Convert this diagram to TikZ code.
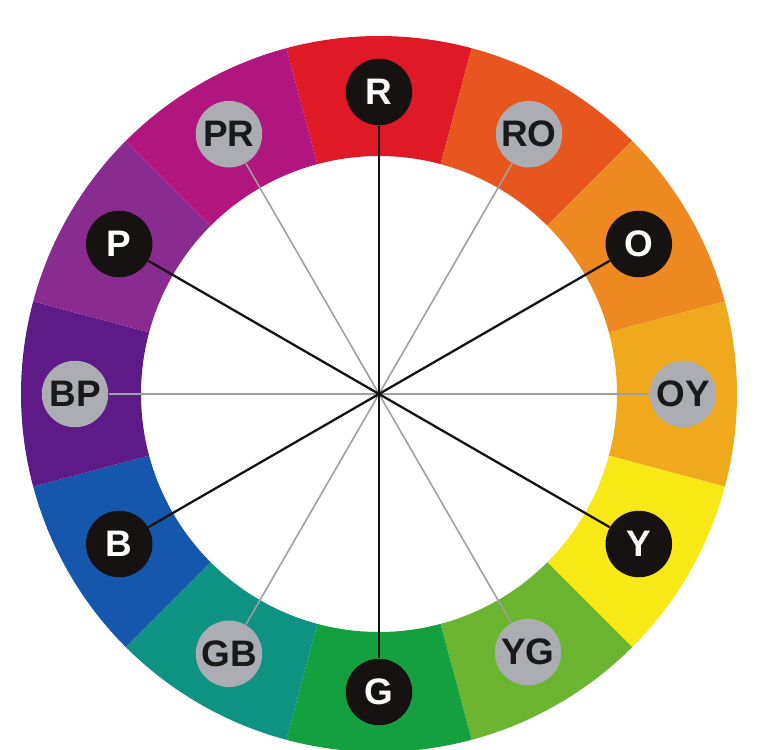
\documentclass[tikz,border=0pt]{standalone}
\usepackage{fontspec}
\setmainfont{Liberation Sans}
\definecolor{cR}{HTML}{DF1A26}
\definecolor{cRO}{HTML}{E8561F}
\definecolor{cO}{HTML}{EE8820}
\definecolor{cOY}{HTML}{F0A91C}
\definecolor{cY}{HTML}{F8E816}
\definecolor{cYG}{HTML}{6CB531}
\definecolor{cG}{HTML}{15A040}
\definecolor{cGB}{HTML}{0E9282}
\definecolor{cB}{HTML}{1557AC}
\definecolor{cBP}{HTML}{5E1B87}
\definecolor{cP}{HTML}{8A2B8F}
\definecolor{cPR}{HTML}{B1167F}
\definecolor{dotblack}{HTML}{161212}
\definecolor{dotgray}{HTML}{ABADB2}
\definecolor{spokegray}{HTML}{A0A0A0}
\tikzset{
  prim/.style={circle, fill=dotblack, minimum size=1.33cm, inner sep=0pt, text=white, font=\bfseries\fontsize{21}{21}\selectfont},
  tert/.style={circle, fill=dotgray, minimum size=1.33cm, inner sep=0pt, text=black!90, font=\bfseries\fontsize{21}{21}\selectfont},
  mainspoke/.style={draw=dotblack, line width=1.3pt},
  minorspoke/.style={draw=spokegray, line width=0.9pt}
}
\begin{document}
\begin{tikzpicture}[x=0.02cm,y=0.02cm]
\useasboundingbox (-379,-356) rectangle (389,394);
\fill[white] (-379,-356) rectangle (389,394);
\foreach \c/\a in {cR/90,cRO/60,cO/30,cOY/0,cY/-30,cYG/-60,cG/-90,cGB/-120,cB/-150,cBP/180,cP/150,cPR/120}{
  \fill[\c] (\a-15:238) -- (\a-15:358) arc[start angle=\a-15, end angle=\a+15, radius=358] -- (\a+15:238) arc[start angle=\a+15, end angle=\a-15, radius=238] -- cycle;
}
\coordinate (c) at (0,0);
\node[prim] (R) at (90:302) {R};
\node[tert] (RO) at (60:300) {RO};
\node[prim] (O) at (30:300) {O};
\node[tert] (OY) at (0:304) {OY};
\node[prim] (Y) at (-30:300) {Y};
\node[tert] (YG) at (-60:298) {YG};
\node[prim] (G) at (-90:298) {G};
\node[tert] (GB) at (-120:300) {GB};
\node[prim] (B) at (-150:300) {B};
\node[tert] (BP) at (180:304) {BP};
\node[prim] (P) at (150:300) {P};
\node[tert] (PR) at (120:300) {PR};
\foreach \n in {RO,OY,YG,GB,BP,PR}{ \draw[minorspoke] (c) -- (\n); }
\foreach \n in {R,O,Y,G,B,P}{ \draw[mainspoke] (c) -- (\n); }
\end{tikzpicture}
\end{document}
